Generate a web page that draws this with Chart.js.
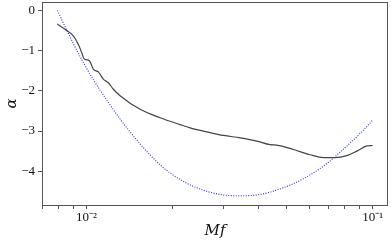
<!DOCTYPE html>
<html>
<head>
<meta charset="utf-8">
<script src="https://cdn.jsdelivr.net/npm/chart.js@4"></script>
<style>
  html, body { margin: 0; padding: 0; background: #fff; }
  canvas { display: block; }
</style>
</head>
<body>
<canvas id="chart" width="391" height="241"></canvas>
<script>
// --- data ---
const fitMf = [0.00791, 0.00853, 0.00899, 0.00936, 0.00962, 0.00982, 0.01023, 0.01056, 0.01100, 0.01145,
    0.01192, 0.01241, 0.01310, 0.01539, 0.01807, 0.02122, 0.02301, 0.02633, 0.03009, 0.03441,
    0.03937, 0.04381, 0.04624, 0.05285, 0.06045, 0.0673, 0.07393, 0.08124, 0.08808, 0.09543, 0.1];
const fitAlpha = [-0.34, -0.50, -0.63, -0.84, -1.05, -1.21, -1.25, -1.46, -1.53, -1.71,
    -1.80, -1.96, -2.12, -2.46, -2.67, -2.84, -2.92, -3.02, -3.11, -3.17,
    -3.25, -3.34, -3.35, -3.46, -3.59, -3.66, -3.66, -3.61, -3.50, -3.37, -3.36];

const modelMf = [0.00791, 0.00853, 0.00899, 0.00974, 0.01056, 0.01115, 0.01177, 0.01310, 0.01539, 0.01807,
    0.02012, 0.02301, 0.02633, 0.03009, 0.03441, 0.03937, 0.04381, 0.05285, 0.06045, 0.06917,
    0.07905, 0.09044, 0.1];
const modelAlpha = [0.0, -0.49, -0.82, -1.29, -1.72, -1.98, -2.23, -2.70, -3.32, -3.84,
    -4.10, -4.34, -4.50, -4.59, -4.61, -4.59, -4.52, -4.31, -4.09, -3.81,
    -3.45, -3.06, -2.73];

const xTicks = [0.007, 0.008, 0.009, 0.01, 0.02, 0.03, 0.04, 0.05, 0.06, 0.07, 0.08, 0.09, 0.1];
const xTickLabels = { 0.01: '10\u207B\u00B2', 0.1: '10\u207B\u00B9' };
const yTicks = [0, -1, -2, -3, -4];

const toPoints = (xs, ys) => xs.map((x, i) => ({ x: x, y: ys[i] }));

// frame around the plot area
const framePlugin = {
    id: 'frame',
    afterDatasetsDraw(chart) {
        const { ctx, chartArea: a } = chart;
        ctx.save();
        ctx.strokeStyle = '#555';
        ctx.lineWidth = 1;
        ctx.strokeRect(Math.round(a.left) + 0.5, Math.round(a.top) + 0.5,
            Math.round(a.right - a.left) - 1, Math.round(a.bottom - a.top));
        ctx.restore();
    }
};

new Chart(document.getElementById('chart'), {
    type: 'line',
    data: {
        datasets: [
            {
                data: toPoints(fitMf, fitAlpha),
                borderColor: '#444',
                borderWidth: 1.2,
                pointRadius: 0,
                cubicInterpolationMode: 'monotone'
            },
            {
                data: toPoints(modelMf, modelAlpha),
                borderColor: 'rgba(20, 20, 255, 0.9)',
                borderWidth: 1.1,
                borderDash: [1, 1.5],
                pointRadius: 0,
                cubicInterpolationMode: 'monotone'
            }
        ]
    },
    options: {
        responsive: false,
        devicePixelRatio: 1,
        animation: false,
        layout: { padding: { top: 2, right: 3, left: 0, bottom: 0 } },
        plugins: {
            legend: { display: false },
            tooltip: { enabled: false }
        },
        scales: {
            x: {
                type: 'logarithmic',
                min: 0.00699,
                max: 0.1131,
                afterBuildTicks: (scale) => {
                    scale.ticks = xTicks.map(v => ({ value: v }));
                },
                afterFit: (scale) => {
                    scale.height = 36;
                    scale.paddingLeft = 0;
                    scale.paddingRight = 0;
                },
                border: { display: false },
                grid: { drawOnChartArea: false, tickLength: 4, tickColor: '#555' },
                ticks: {
                    autoSkip: false,
                    maxRotation: 0,
                    padding: 1,
                    color: '#111',
                    font: { family: 'Liberation Serif', size: 13 },
                    callback: (v) => xTickLabels[v] || ''
                },
                title: {
                    display: true,
                    text: 'Mf',
                    color: '#111',
                    font: { family: 'DejaVu Serif', style: 'italic', size: 15 },
                    padding: { top: 0, bottom: 1 }
                }
            },
            y: {
                min: -4.84,
                max: 0.21,
                afterBuildTicks: (scale) => {
                    scale.ticks = yTicks.map(v => ({ value: v }));
                },
                afterFit: (scale) => {
                    scale.width = 42;
                    scale.paddingTop = 0;
                    scale.paddingBottom = 0;
                },
                border: { display: false },
                grid: { drawOnChartArea: false, tickLength: 4, tickColor: '#555' },
                ticks: {
                    padding: 3,
                    color: '#111',
                    font: { family: 'Liberation Serif', size: 13 },
                    callback: (v) => (v < 0 ? '\u2212' + Math.abs(v) : String(v))
                },
                title: {
                    display: true,
                    text: 'α',
                    color: '#111',
                    font: { family: 'DejaVu Serif', style: 'italic', size: 15 },
                    padding: { top: 3, bottom: 0 }
                }
            }
        }
    },
    plugins: [framePlugin]
});
</script>
</body>
</html>
